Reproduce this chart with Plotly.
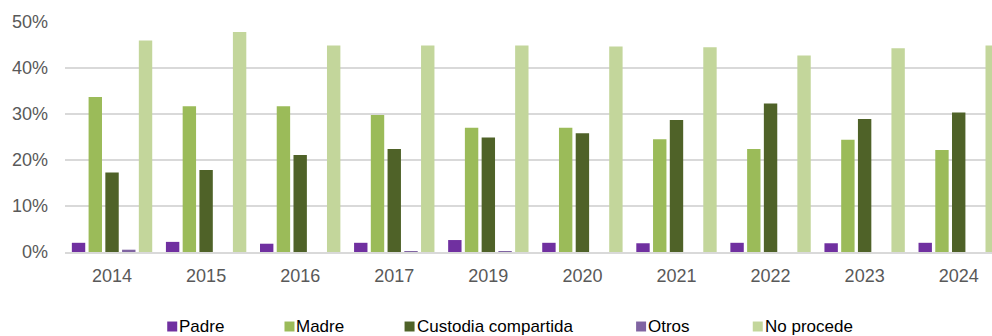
import plotly.graph_objects as go

# Custody attribution by year (% of cases)
years = ["2014", "2015", "2016", "2017", "2019", "2020", "2021", "2022", "2023", "2024"]
padre = [2.0, 2.2, 1.8, 2.0, 2.6, 2.0, 1.9, 2.0, 1.9, 2.0]
madre = [33.7, 31.7, 31.7, 29.8, 27.0, 27.0, 24.5, 22.4, 24.4, 22.2]
custodia_compartida = [17.3, 17.8, 21.1, 22.4, 24.9, 25.8, 28.7, 32.3, 28.9, 30.3]
otros = [0.5, 0.0, 0.0, 0.2, 0.2, 0.0, 0.0, 0.0, 0.0, 0.0]
no_procede = [46.0, 47.8, 44.9, 44.9, 44.9, 44.7, 44.5, 42.7, 44.3, 44.9]

y_ticks = [0, 10, 20, 30, 40, 50]
y_tick_labels = [f"{v}%" for v in y_ticks]

series = [
    ("Padre", padre, "#7030A0"),
    ("Madre", madre, "#9BBB59"),
    ("Custodia compartida", custodia_compartida, "#4F6228"),
    ("Otros", otros, "#8064A2"),
    ("No procede", no_procede, "#C3D69B"),
]

# Page geometry (pixels)
W, H = 992, 336
M_L, M_R, M_T, M_B = 64.75, 0, 21.7, 83.7
plot_w = W - M_L - M_R
plot_h = H - M_T - M_B
cat_px = 94.1  # width of one year slot

fig = go.Figure()
for name, vals, color in series:
    fig.add_trace(go.Bar(
        x=years, y=vals, name=name,
        marker=dict(color=color, line=dict(width=0)),
        showlegend=False,
    ))


def px_to_paper_x(px):
    return (px - M_L) / plot_w


def px_to_paper_y(py):
    return (H - M_B - py) / plot_h


# Legend drawn along the bottom: square swatch followed by its label
legend_left_px = [167, 284.3, 404.4, 636, 752.7]
swatch = 10
legend_mid_px = 326.8
shapes = []
annotations = []
for (name, _, color), lx in zip(series, legend_left_px):
    shapes.append(dict(
        type="rect", xref="paper", yref="paper",
        x0=px_to_paper_x(lx), x1=px_to_paper_x(lx + swatch),
        y0=px_to_paper_y(332), y1=px_to_paper_y(332 - swatch),
        fillcolor=color, line=dict(width=0), layer="above",
    ))
    annotations.append(dict(
        text=name, xref="paper", yref="paper",
        x=px_to_paper_x(lx + swatch), y=px_to_paper_y(legend_mid_px),
        xanchor="left", yanchor="middle", showarrow=False,
        font=dict(family="Liberation Sans, Arial, sans-serif", size=17, color="#000000"),
    ))

x_end = -0.5 + plot_w / cat_px

fig.update_layout(
    width=W, height=H,
    margin=dict(l=M_L, r=M_R, t=M_T, b=M_B, pad=0),
    paper_bgcolor="white", plot_bgcolor="white",
    barmode="group", bargap=0.11, bargroupgap=0.2,
    font=dict(family="Liberation Sans, Arial, sans-serif", color="#595959"),
    shapes=shapes, annotations=annotations,
    showlegend=False,
)
fig.update_xaxes(
    type="category", range=[-0.5, x_end],
    showgrid=False, showline=True, linecolor="#D9D9D9", linewidth=1.5,
    ticks="", tickfont=dict(size=18, color="#595959"),
    ticklabelstandoff=7, zeroline=False,
)
fig.update_yaxes(
    range=[0, 50], tickmode="array", tickvals=y_ticks, ticktext=y_tick_labels,
    showgrid=True, gridcolor="#D9D9D9", gridwidth=1.5,
    zeroline=False, showline=False, ticks="",
    tickfont=dict(size=18, color="#595959"),
    ticklabelstandoff=16,
)

fig.write_html("out.html")
